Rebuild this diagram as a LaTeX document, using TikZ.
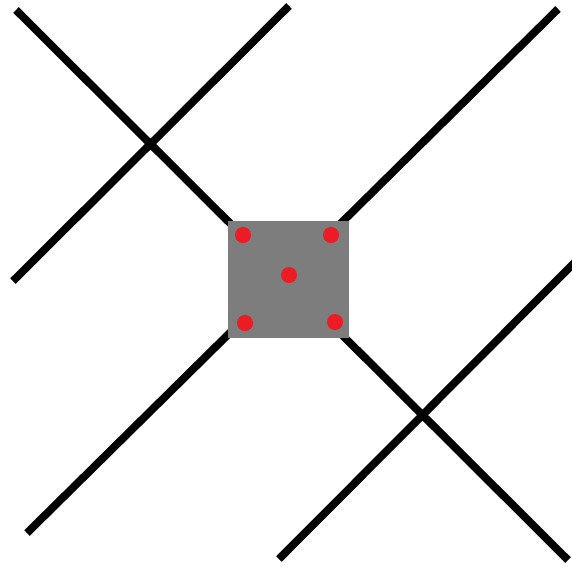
\documentclass[tikz,border=0pt]{standalone}
\definecolor{dotred}{RGB}{237,28,36}
\begin{document}
\begin{tikzpicture}[x=1pt,y=-1pt,
  bar/.style={line width=7.8pt,black},
  dot/.style={circle,fill=dotred,inner sep=0pt,minimum size=16pt}]
\useasboundingbox (0,0) rectangle (572,568);
\clip (0,0) rectangle (572,568);
\coordinate (a1) at (16,10);
\coordinate (a2) at (568,560);
\coordinate (b1) at (289,6);
\coordinate (b2) at (13,281);
\coordinate (c1) at (558,9);
\coordinate (c2) at (27,533);
\coordinate (d1) at (578,259);
\coordinate (d2) at (279,559);
\draw[bar] (a1) -- (a2);
\draw[bar] (b1) -- (b2);
\draw[bar] (c1) -- (c2);
\draw[bar] (d1) -- (d2);
\fill[gray!98!black] (228,221) rectangle (349,338);
\foreach \n/\x/\y in {tl/243/235, tr/331/235, m/289/275, bl/245/323, br/335/322}
  \node[dot] (\n) at (\x,\y) {};
\end{tikzpicture}
\end{document}
